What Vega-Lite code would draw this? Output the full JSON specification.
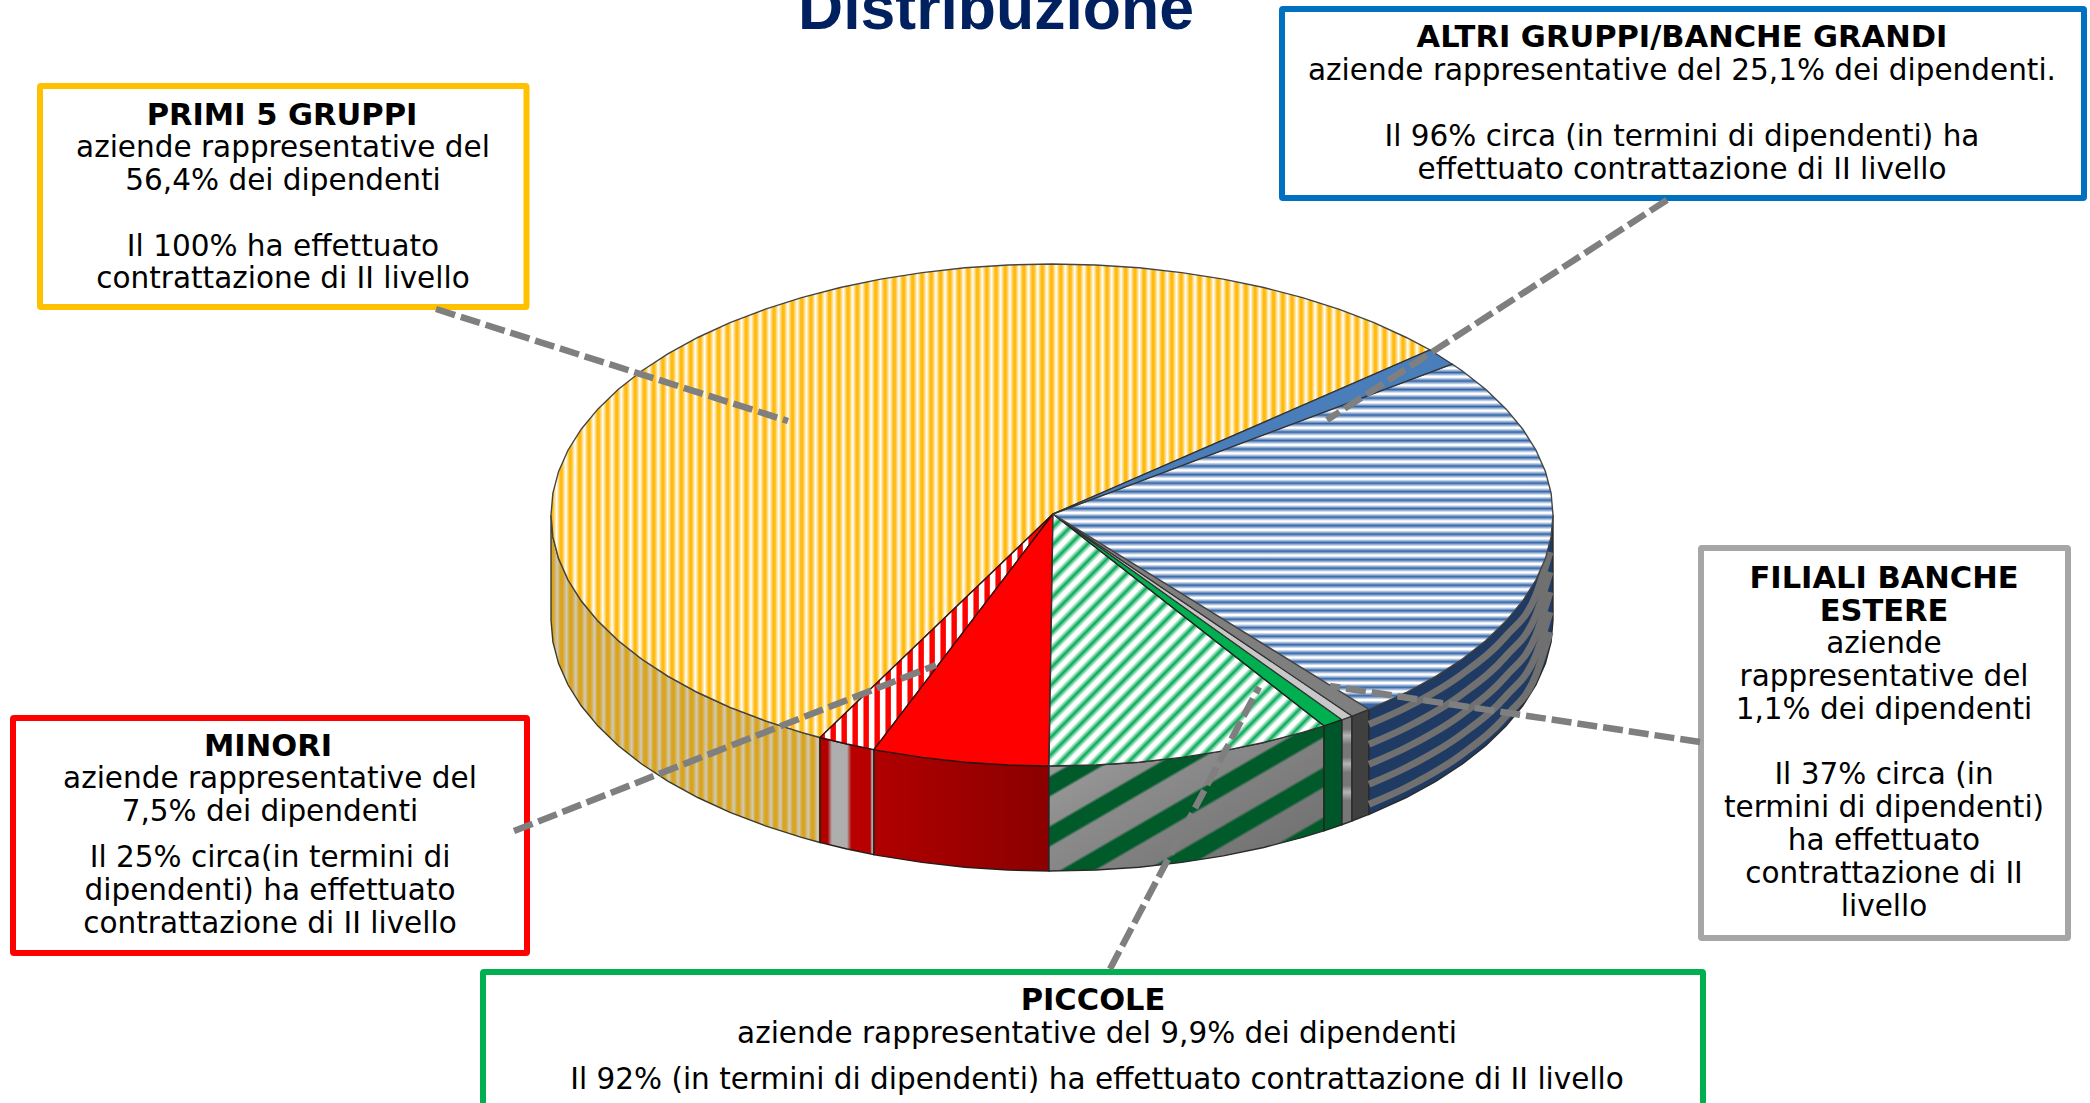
{"$schema":"https://vega.github.io/schema/vega-lite/v6.json","width":2090,"height":1103,"padding":0,"autosize":{"type":"none"},"background":"#ffffff","config":{"view":{"stroke":null}},
"datasets":{
"faces":[
{"f":"y","i":0,"x":1053,"y":514},{"f":"y","i":1,"x":1430,"y":350},{"f":"y","i":2,"x":1406.3,"y":337.5},{"f":"y","i":3,"x":1374,"y":322.7},{"f":"y","i":4,"x":1339.4,"y":309.4},{"f":"y","i":5,"x":1302.5,"y":297.6},{"f":"y","i":6,"x":1263.7,"y":287.5},{"f":"y","i":7,"x":1223.3,"y":279.1},{"f":"y","i":8,"x":1181.7,"y":272.6},{"f":"y","i":9,"x":1139,"y":267.8},{"f":"y","i":10,"x":1095.7,"y":265},{"f":"y","i":11,"x":1052,"y":264},{"f":"y","i":12,"x":1008.3,"y":265},{"f":"y","i":13,"x":965,"y":267.8},{"f":"y","i":14,"x":922.3,"y":272.6},{"f":"y","i":15,"x":880.7,"y":279.1},{"f":"y","i":16,"x":840.3,"y":287.5},{"f":"y","i":17,"x":801.5,"y":297.6},{"f":"y","i":18,"x":764.6,"y":309.4},{"f":"y","i":19,"x":730,"y":322.7},{"f":"y","i":20,"x":697.7,"y":337.5},{"f":"y","i":21,"x":668.2,"y":353.7},{"f":"y","i":22,"x":641.6,"y":371},{"f":"y","i":23,"x":618.1,"y":389.5},{"f":"y","i":24,"x":598,"y":408.9},{"f":"y","i":25,"x":581.2,"y":429.2},{"f":"y","i":26,"x":568.1,"y":450},{"f":"y","i":27,"x":558.6,"y":471.4},{"f":"y","i":28,"x":552.9,"y":493.1},{"f":"y","i":29,"x":551,"y":515},{"f":"y","i":30,"x":552.9,"y":536.9},{"f":"y","i":31,"x":558.6,"y":558.6},{"f":"y","i":32,"x":568.1,"y":580},{"f":"y","i":33,"x":581.2,"y":600.8},{"f":"y","i":34,"x":598,"y":621.1},{"f":"y","i":35,"x":618.1,"y":640.5},{"f":"y","i":36,"x":641.6,"y":659},{"f":"y","i":37,"x":668.2,"y":676.3},{"f":"y","i":38,"x":697.7,"y":692.5},{"f":"y","i":39,"x":730,"y":707.3},{"f":"y","i":40,"x":764.6,"y":720.6},{"f":"y","i":41,"x":801.5,"y":732.4},{"f":"y","i":42,"x":820,"y":737.5},{"f":"y","i":43,"x":1053,"y":514},
{"f":"rs","i":0,"x":1053,"y":514},{"f":"rs","i":1,"x":820,"y":737.5},{"f":"rs","i":2,"x":847,"y":744},{"f":"rs","i":3,"x":874,"y":749.6},{"f":"rs","i":4,"x":1053,"y":514},
{"f":"r","i":0,"x":1053,"y":514},{"f":"r","i":1,"x":874,"y":749.6},{"f":"r","i":2,"x":880.7,"y":750.9},{"f":"r","i":3,"x":922.3,"y":757.4},{"f":"r","i":4,"x":965,"y":762.2},{"f":"r","i":5,"x":1008.3,"y":765},{"f":"r","i":6,"x":1049,"y":766},{"f":"r","i":7,"x":1053,"y":514},
{"f":"gs","i":0,"x":1053,"y":514},{"f":"gs","i":1,"x":1049,"y":766},{"f":"gs","i":2,"x":1095.7,"y":765},{"f":"gs","i":3,"x":1139,"y":762.2},{"f":"gs","i":4,"x":1181.7,"y":757.4},{"f":"gs","i":5,"x":1223.3,"y":750.9},{"f":"gs","i":6,"x":1263.7,"y":742.5},{"f":"gs","i":7,"x":1302.5,"y":732.4},{"f":"gs","i":8,"x":1324,"y":725.8},{"f":"gs","i":9,"x":1053,"y":514},
{"f":"g","i":0,"x":1053,"y":514},{"f":"g","i":1,"x":1324,"y":725.8},{"f":"g","i":2,"x":1342,"y":719.7},{"f":"g","i":3,"x":1053,"y":514},
{"f":"as","i":0,"x":1053,"y":514},{"f":"as","i":1,"x":1342,"y":719.7},{"f":"as","i":2,"x":1352,"y":716},{"f":"as","i":3,"x":1053,"y":514},
{"f":"a","i":0,"x":1053,"y":514},{"f":"a","i":1,"x":1352,"y":716},{"f":"a","i":2,"x":1369,"y":709.3},{"f":"a","i":3,"x":1053,"y":514},
{"f":"bs","i":0,"x":1053,"y":514},{"f":"bs","i":1,"x":1369,"y":709.3},{"f":"bs","i":2,"x":1406.3,"y":692.5},{"f":"bs","i":3,"x":1435.8,"y":676.3},{"f":"bs","i":4,"x":1462.4,"y":659},{"f":"bs","i":5,"x":1485.9,"y":640.5},{"f":"bs","i":6,"x":1506,"y":621.1},{"f":"bs","i":7,"x":1522.8,"y":600.8},{"f":"bs","i":8,"x":1535.9,"y":580},{"f":"bs","i":9,"x":1545.4,"y":558.6},{"f":"bs","i":10,"x":1551.1,"y":536.9},{"f":"bs","i":11,"x":1553,"y":515},{"f":"bs","i":12,"x":1551.1,"y":493.1},{"f":"bs","i":13,"x":1545.4,"y":471.4},{"f":"bs","i":14,"x":1535.9,"y":450},{"f":"bs","i":15,"x":1522.8,"y":429.2},{"f":"bs","i":16,"x":1506,"y":408.9},{"f":"bs","i":17,"x":1485.9,"y":389.5},{"f":"bs","i":18,"x":1462.4,"y":371},{"f":"bs","i":19,"x":1452,"y":364},{"f":"bs","i":20,"x":1053,"y":514},
{"f":"b","i":0,"x":1053,"y":514},{"f":"b","i":1,"x":1452,"y":364},{"f":"b","i":2,"x":1430,"y":350},{"f":"b","i":3,"x":1053,"y":514}
],
"sides":[
{"f":"y","x":551,"y":515,"y2":620},{"f":"y","x":552.9,"y":536.9,"y2":641.9},{"f":"y","x":558.6,"y":558.6,"y2":663.6},{"f":"y","x":568.1,"y":580,"y2":685},{"f":"y","x":581.2,"y":600.8,"y2":705.8},{"f":"y","x":598,"y":621.1,"y2":726.1},{"f":"y","x":618.1,"y":640.5,"y2":745.5},{"f":"y","x":641.6,"y":659,"y2":764},{"f":"y","x":668.2,"y":676.3,"y2":781.3},{"f":"y","x":697.7,"y":692.5,"y2":797.5},{"f":"y","x":730,"y":707.3,"y2":812.3},{"f":"y","x":764.6,"y":720.6,"y2":825.6},{"f":"y","x":801.5,"y":732.4,"y2":837.4},{"f":"y","x":820,"y":737.5,"y2":842.5},
{"f":"rs","x":820,"y":737.5,"y2":842.5},{"f":"rs","x":847,"y":744,"y2":849},{"f":"rs","x":874,"y":749.6,"y2":854.6},
{"f":"r","x":874,"y":749.6,"y2":854.6},{"f":"r","x":880.7,"y":750.9,"y2":855.9},{"f":"r","x":922.3,"y":757.4,"y2":862.4},{"f":"r","x":965,"y":762.2,"y2":867.2},{"f":"r","x":1008.3,"y":765,"y2":870},{"f":"r","x":1049,"y":766,"y2":871},
{"f":"gs","x":1049,"y":766,"y2":871},{"f":"gs","x":1095.7,"y":765,"y2":870},{"f":"gs","x":1139,"y":762.2,"y2":867.2},{"f":"gs","x":1181.7,"y":757.4,"y2":862.4},{"f":"gs","x":1223.3,"y":750.9,"y2":855.9},{"f":"gs","x":1263.7,"y":742.5,"y2":847.5},{"f":"gs","x":1302.5,"y":732.4,"y2":837.4},{"f":"gs","x":1324,"y":725.8,"y2":830.8},
{"f":"g","x":1324,"y":725.8,"y2":830.8},{"f":"g","x":1342,"y":719.7,"y2":824.7},
{"f":"as","x":1342,"y":719.7,"y2":824.7},{"f":"as","x":1352,"y":716,"y2":821},
{"f":"a","x":1352,"y":716,"y2":821},{"f":"a","x":1369,"y":709.3,"y2":814.3},
{"f":"bs","x":1369,"y":709.3,"y2":814.3},{"f":"bs","x":1406.3,"y":692.5,"y2":797.5},{"f":"bs","x":1435.8,"y":676.3,"y2":781.3},{"f":"bs","x":1462.4,"y":659,"y2":764},{"f":"bs","x":1485.9,"y":640.5,"y2":745.5},{"f":"bs","x":1506,"y":621.1,"y2":726.1},{"f":"bs","x":1522.8,"y":600.8,"y2":705.8},{"f":"bs","x":1535.9,"y":580,"y2":685},{"f":"bs","x":1545.4,"y":558.6,"y2":663.6},{"f":"bs","x":1551.1,"y":536.9,"y2":641.9},{"f":"bs","x":1553,"y":515,"y2":620}
],
"bands":[
{"k":1,"x":1369,"y":724.3},{"k":1,"x":1406.3,"y":707.5},{"k":1,"x":1462.4,"y":674},{"k":1,"x":1506,"y":636.1},{"k":1,"x":1535.9,"y":595},{"k":1,"x":1550,"y":552},
{"k":2,"x":1369,"y":744.3},{"k":2,"x":1406.3,"y":727.5},{"k":2,"x":1462.4,"y":694},{"k":2,"x":1506,"y":656.1},{"k":2,"x":1535.9,"y":615},{"k":2,"x":1550,"y":572},
{"k":3,"x":1369,"y":764.3},{"k":3,"x":1406.3,"y":747.5},{"k":3,"x":1462.4,"y":714},{"k":3,"x":1506,"y":676.1},{"k":3,"x":1535.9,"y":635},{"k":3,"x":1550,"y":592},
{"k":4,"x":1369,"y":784.3},{"k":4,"x":1406.3,"y":767.5},{"k":4,"x":1462.4,"y":734},{"k":4,"x":1506,"y":696.1},{"k":4,"x":1535.9,"y":655},{"k":4,"x":1550,"y":612},
{"k":5,"x":1369,"y":804.3},{"k":5,"x":1406.3,"y":787.5},{"k":5,"x":1462.4,"y":754},{"k":5,"x":1506,"y":716.1},{"k":5,"x":1535.9,"y":675},{"k":5,"x":1550,"y":632}
],
"boxes":[
{"g":"primi","x":40,"x2":526.5,"y":86,"y2":307},
{"g":"altri","x":1282,"x2":2084,"y":9,"y2":198},
{"g":"filiali","x":1701,"x2":2068,"y":548,"y2":938},
{"g":"minori","x":13,"x2":527,"y":718,"y2":953},
{"g":"piccole","x":483,"x2":1703,"y":972,"y2":1125}
],
"leaders":[
{"x":436,"y":309,"x2":788,"y2":421},
{"x":1667,"y":200,"x2":1327,"y2":420},
{"x":1700,"y":742,"x2":1330,"y2":686},
{"x":1110,"y":969,"x2":1259,"y2":687},
{"x":514,"y":831,"x2":936,"y2":665}
],
"bold":[
{"t":"PRIMI 5 GRUPPI","x":282,"y":125},
{"t":"ALTRI GRUPPI/BANCHE GRANDI","x":1682,"y":47},
{"t":"FILIALI BANCHE","x":1884,"y":588},
{"t":"ESTERE","x":1884,"y":621},
{"t":"MINORI","x":268,"y":756},
{"t":"PICCOLE","x":1093,"y":1010}
],
"plain":[
{"t":"aziende rappresentative del","x":283,"y":157},
{"t":"56,4% dei dipendenti","x":283,"y":190},
{"t":"Il 100% ha effettuato","x":283,"y":256},
{"t":"contrattazione di II livello","x":283,"y":288},
{"t":"aziende rappresentative del 25,1% dei dipendenti.","x":1682,"y":80},
{"t":"Il 96% circa (in termini di dipendenti) ha","x":1682,"y":146},
{"t":"effettuato contrattazione di II livello","x":1682,"y":179},
{"t":"aziende","x":1884,"y":653},
{"t":"rappresentative del","x":1884,"y":686},
{"t":"1,1% dei dipendenti","x":1884,"y":719},
{"t":"Il 37% circa (in","x":1884,"y":784},
{"t":"termini di dipendenti)","x":1884,"y":817},
{"t":"ha effettuato","x":1884,"y":850},
{"t":"contrattazione di II","x":1884,"y":883},
{"t":"livello","x":1884,"y":916},
{"t":"aziende rappresentative del","x":270,"y":788},
{"t":"7,5% dei dipendenti","x":270,"y":821},
{"t":"Il 25% circa(in termini di","x":270,"y":867},
{"t":"dipendenti) ha effettuato","x":270,"y":900},
{"t":"contrattazione di II livello","x":270,"y":933},
{"t":"aziende rappresentative del 9,9% dei dipendenti","x":1097,"y":1043},
{"t":"Il 92% (in termini di dipendenti) ha effettuato contrattazione di II livello","x":1097,"y":1089}
],
"title":[{"t":"Distribuzione","x":996,"y":29}]
},
"encoding":{"x":{"field":"x","type":"quantitative","scale":{"domain":[0,2090],"nice":false,"zero":false},"axis":null},"y":{"field":"y","type":"quantitative","scale":{"domain":[1103,0],"nice":false,"zero":false},"axis":null}},
"layer":[
{"data":{"name":"sides"},"transform":[{"filter":"datum.f==='y'"}],"mark":{"type":"area","stroke":"#3a3a2a","strokeWidth":1.4,"color":{"gradient":"linear","x1":0,"y1":0,"x2":1.152,"y2":0,"stops":[{"offset":0,"color":"#d9a520"},{"offset":0.008,"color":"#d9a520"},{"offset":0.02,"color":"#cfcabd"},{"offset":0.03,"color":"#d9a520"},{"offset":0.038,"color":"#d9a520"},{"offset":0.05,"color":"#cfcabd"},{"offset":0.06,"color":"#d9a520"},{"offset":0.068,"color":"#d9a520"},{"offset":0.08,"color":"#cfcabd"},{"offset":0.09,"color":"#d9a520"},{"offset":0.098,"color":"#d9a520"},{"offset":0.11,"color":"#cfcabd"},{"offset":0.12,"color":"#d9a520"},{"offset":0.128,"color":"#d9a520"},{"offset":0.14,"color":"#cfcabd"},{"offset":0.15,"color":"#d9a520"},{"offset":0.158,"color":"#d9a520"},{"offset":0.17,"color":"#cfcabd"},{"offset":0.18,"color":"#d9a520"},{"offset":0.188,"color":"#d9a520"},{"offset":0.2,"color":"#cfcabd"},{"offset":0.21,"color":"#d9a520"},{"offset":0.218,"color":"#d9a520"},{"offset":0.23,"color":"#cfcabd"},{"offset":0.24,"color":"#d9a520"},{"offset":0.248,"color":"#d9a520"},{"offset":0.26,"color":"#cfcabd"},{"offset":0.27,"color":"#d9a520"},{"offset":0.278,"color":"#d9a520"},{"offset":0.29,"color":"#cfcabd"},{"offset":0.3,"color":"#d9a520"},{"offset":0.308,"color":"#d9a520"},{"offset":0.32,"color":"#cfcabd"},{"offset":0.33,"color":"#d9a520"},{"offset":0.338,"color":"#d9a520"},{"offset":0.35,"color":"#cfcabd"},{"offset":0.36,"color":"#d9a520"},{"offset":0.368,"color":"#d9a520"},{"offset":0.38,"color":"#cfcabd"},{"offset":0.39,"color":"#d9a520"},{"offset":0.398,"color":"#d9a520"},{"offset":0.41,"color":"#cfcabd"},{"offset":0.42,"color":"#d9a520"},{"offset":0.428,"color":"#d9a520"},{"offset":0.44,"color":"#cfcabd"},{"offset":0.45,"color":"#d9a520"},{"offset":0.458,"color":"#d9a520"},{"offset":0.47,"color":"#cfcabd"},{"offset":0.48,"color":"#d9a520"},{"offset":0.488,"color":"#d9a520"},{"offset":0.5,"color":"#cfcabd"},{"offset":0.51,"color":"#d9a520"},{"offset":0.518,"color":"#d9a520"},{"offset":0.53,"color":"#cfcabd"},{"offset":0.54,"color":"#d9a520"},{"offset":0.548,"color":"#d9a520"},{"offset":0.56,"color":"#cfcabd"},{"offset":0.57,"color":"#d9a520"},{"offset":0.578,"color":"#d9a520"},{"offset":0.59,"color":"#cfcabd"},{"offset":0.6,"color":"#d9a520"},{"offset":0.608,"color":"#d9a520"},{"offset":0.62,"color":"#cfcabd"},{"offset":0.63,"color":"#d9a520"},{"offset":0.638,"color":"#d9a520"},{"offset":0.65,"color":"#cfcabd"},{"offset":0.66,"color":"#d9a520"},{"offset":0.668,"color":"#d9a520"},{"offset":0.68,"color":"#cfcabd"},{"offset":0.69,"color":"#d9a520"},{"offset":0.698,"color":"#d9a520"},{"offset":0.71,"color":"#cfcabd"},{"offset":0.72,"color":"#d9a520"},{"offset":0.728,"color":"#d9a520"},{"offset":0.74,"color":"#cfcabd"},{"offset":0.75,"color":"#d9a520"},{"offset":0.758,"color":"#d9a520"},{"offset":0.77,"color":"#cfcabd"},{"offset":0.78,"color":"#d9a520"},{"offset":0.788,"color":"#d9a520"},{"offset":0.8,"color":"#cfcabd"},{"offset":0.81,"color":"#d9a520"},{"offset":0.818,"color":"#d9a520"},{"offset":0.83,"color":"#cfcabd"},{"offset":0.84,"color":"#d9a520"},{"offset":0.848,"color":"#d9a520"},{"offset":0.86,"color":"#cfcabd"},{"offset":0.87,"color":"#d9a520"}]}},"encoding":{"y2":{"field":"y2"}}},
{"data":{"name":"sides"},"transform":[{"filter":"datum.f==='rs'"}],"mark":{"type":"area","stroke":"#2a1a1a","strokeWidth":1.4,"color":{"gradient":"linear","x1":0,"y1":0,"x2":1,"y2":0,"stops":[{"offset":0,"color":"#b00000"},{"offset":0.14,"color":"#b00000"},{"offset":0.22,"color":"#aeaeae"},{"offset":0.5,"color":"#aeaeae"},{"offset":0.58,"color":"#b80000"},{"offset":0.93,"color":"#b80000"},{"offset":0.96,"color":"#aaaaaa"},{"offset":1,"color":"#aaaaaa"}]}},"encoding":{"y2":{"field":"y2"}}},
{"data":{"name":"sides"},"transform":[{"filter":"datum.f==='r'"}],"mark":{"type":"area","stroke":"#2a1a1a","strokeWidth":1.4,"color":{"gradient":"linear","x1":0,"y1":0,"x2":1,"y2":0,"stops":[{"offset":0,"color":"#b00000"},{"offset":1,"color":"#8b0000"}]}},"encoding":{"y2":{"field":"y2"}}},
{"data":{"name":"sides"},"transform":[{"filter":"datum.f==='gs'"}],"mark":{"type":"area","stroke":"#2a2a2a","strokeWidth":1.4,"color":{"gradient":"linear","x1":0,"y1":0,"x2":1.1,"y2":1,"stops":[{"offset":0,"color":"#005a2a"},{"offset":0.06,"color":"#005a2a"},{"offset":0.07,"color":"#9c9c9c"},{"offset":0.154,"color":"#989898"},{"offset":0.164,"color":"#005a2a"},{"offset":0.216,"color":"#005a2a"},{"offset":0.226,"color":"#949494"},{"offset":0.31,"color":"#8e8e8e"},{"offset":0.32,"color":"#005a2a"},{"offset":0.372,"color":"#005a2a"},{"offset":0.382,"color":"#8a8a8a"},{"offset":0.466,"color":"#868686"},{"offset":0.476,"color":"#005a2a"},{"offset":0.528,"color":"#005a2a"},{"offset":0.538,"color":"#808080"},{"offset":0.622,"color":"#7c7c7c"},{"offset":0.632,"color":"#005a2a"},{"offset":0.684,"color":"#005a2a"},{"offset":0.694,"color":"#787878"},{"offset":0.778,"color":"#747474"},{"offset":0.788,"color":"#005a2a"},{"offset":0.84,"color":"#005a2a"},{"offset":0.85,"color":"#727272"},{"offset":0.934,"color":"#707070"},{"offset":0.944,"color":"#005a2a"},{"offset":1,"color":"#005a2a"}]}},"encoding":{"y2":{"field":"y2"}}},
{"data":{"name":"sides"},"transform":[{"filter":"datum.f==='g'"}],"mark":{"type":"area","stroke":"#1a2a1a","strokeWidth":1.4,"color":"#00562b"},"encoding":{"y2":{"field":"y2"}}},
{"data":{"name":"sides"},"transform":[{"filter":"datum.f==='as'"}],"mark":{"type":"area","stroke":"#2a2a2a","strokeWidth":1.4,"color":{"gradient":"linear","x1":0,"y1":0,"x2":0,"y2":1,"stops":[{"offset":0,"color":"#777777"},{"offset":0.12,"color":"#777777"},{"offset":0.18,"color":"#b5b5b5"},{"offset":0.26,"color":"#777777"},{"offset":0.38,"color":"#777777"},{"offset":0.44,"color":"#b5b5b5"},{"offset":0.52,"color":"#777777"},{"offset":0.64,"color":"#777777"},{"offset":0.7,"color":"#b5b5b5"},{"offset":0.78,"color":"#777777"},{"offset":1,"color":"#777777"}]}},"encoding":{"y2":{"field":"y2"}}},
{"data":{"name":"sides"},"transform":[{"filter":"datum.f==='a'"}],"mark":{"type":"area","stroke":"#2a2a2a","strokeWidth":1.4,"color":"#404040"},"encoding":{"y2":{"field":"y2"}}},
{"data":{"name":"sides"},"transform":[{"filter":"datum.f==='bs'"}],"mark":{"type":"area","stroke":"#2a2a2a","strokeWidth":1.4,"color":"#1f3a63"},"encoding":{"y2":{"field":"y2"}}},
{"data":{"name":"bands"},"mark":{"type":"line","stroke":"#707070","strokeWidth":7,"interpolate":"monotone"},"encoding":{"detail":{"field":"k","type":"nominal"}}},
{"data":{"name":"faces"},"transform":[{"filter":"datum.f==='y'"}],"mark":{"type":"line","stroke":"#444444","strokeWidth":1.4,"fill":{"gradient":"linear","x1":0,"y1":0,"x2":1.0526,"y2":0,"stops":[{"offset":0,"color":"#fb1"},{"offset":0.002,"color":"#fb1"},{"offset":0.006,"color":"#fff"},{"offset":0.01,"color":"#fb1"},{"offset":0.012,"color":"#fb1"},{"offset":0.016,"color":"#fff"},{"offset":0.02,"color":"#fb1"},{"offset":0.022,"color":"#fb1"},{"offset":0.026,"color":"#fff"},{"offset":0.03,"color":"#fb1"},{"offset":0.032,"color":"#fb1"},{"offset":0.036,"color":"#fff"},{"offset":0.04,"color":"#fb1"},{"offset":0.042,"color":"#fb1"},{"offset":0.046,"color":"#fff"},{"offset":0.05,"color":"#fb1"},{"offset":0.052,"color":"#fb1"},{"offset":0.056,"color":"#fff"},{"offset":0.06,"color":"#fb1"},{"offset":0.062,"color":"#fb1"},{"offset":0.066,"color":"#fff"},{"offset":0.07,"color":"#fb1"},{"offset":0.072,"color":"#fb1"},{"offset":0.076,"color":"#fff"},{"offset":0.08,"color":"#fb1"},{"offset":0.082,"color":"#fb1"},{"offset":0.086,"color":"#fff"},{"offset":0.09,"color":"#fb1"},{"offset":0.092,"color":"#fb1"},{"offset":0.096,"color":"#fff"},{"offset":0.1,"color":"#fb1"},{"offset":0.102,"color":"#fb1"},{"offset":0.106,"color":"#fff"},{"offset":0.11,"color":"#fb1"},{"offset":0.112,"color":"#fb1"},{"offset":0.116,"color":"#fff"},{"offset":0.12,"color":"#fb1"},{"offset":0.122,"color":"#fb1"},{"offset":0.126,"color":"#fff"},{"offset":0.13,"color":"#fb1"},{"offset":0.132,"color":"#fb1"},{"offset":0.136,"color":"#fff"},{"offset":0.14,"color":"#fb1"},{"offset":0.142,"color":"#fb1"},{"offset":0.146,"color":"#fff"},{"offset":0.15,"color":"#fb1"},{"offset":0.152,"color":"#fb1"},{"offset":0.156,"color":"#fff"},{"offset":0.16,"color":"#fb1"},{"offset":0.162,"color":"#fb1"},{"offset":0.166,"color":"#fff"},{"offset":0.17,"color":"#fb1"},{"offset":0.172,"color":"#fb1"},{"offset":0.176,"color":"#fff"},{"offset":0.18,"color":"#fb1"},{"offset":0.182,"color":"#fb1"},{"offset":0.186,"color":"#fff"},{"offset":0.19,"color":"#fb1"},{"offset":0.192,"color":"#fb1"},{"offset":0.196,"color":"#fff"},{"offset":0.2,"color":"#fb1"},{"offset":0.202,"color":"#fb1"},{"offset":0.206,"color":"#fff"},{"offset":0.21,"color":"#fb1"},{"offset":0.212,"color":"#fb1"},{"offset":0.216,"color":"#fff"},{"offset":0.22,"color":"#fb1"},{"offset":0.222,"color":"#fb1"},{"offset":0.226,"color":"#fff"},{"offset":0.23,"color":"#fb1"},{"offset":0.232,"color":"#fb1"},{"offset":0.236,"color":"#fff"},{"offset":0.24,"color":"#fb1"},{"offset":0.242,"color":"#fb1"},{"offset":0.246,"color":"#fff"},{"offset":0.25,"color":"#fb1"},{"offset":0.252,"color":"#fb1"},{"offset":0.256,"color":"#fff"},{"offset":0.26,"color":"#fb1"},{"offset":0.262,"color":"#fb1"},{"offset":0.266,"color":"#fff"},{"offset":0.27,"color":"#fb1"},{"offset":0.272,"color":"#fb1"},{"offset":0.276,"color":"#fff"},{"offset":0.28,"color":"#fb1"},{"offset":0.282,"color":"#fb1"},{"offset":0.286,"color":"#fff"},{"offset":0.29,"color":"#fb1"},{"offset":0.292,"color":"#fb1"},{"offset":0.296,"color":"#fff"},{"offset":0.3,"color":"#fb1"},{"offset":0.302,"color":"#fb1"},{"offset":0.306,"color":"#fff"},{"offset":0.31,"color":"#fb1"},{"offset":0.312,"color":"#fb1"},{"offset":0.316,"color":"#fff"},{"offset":0.32,"color":"#fb1"},{"offset":0.322,"color":"#fb1"},{"offset":0.326,"color":"#fff"},{"offset":0.33,"color":"#fb1"},{"offset":0.332,"color":"#fb1"},{"offset":0.336,"color":"#fff"},{"offset":0.34,"color":"#fb1"},{"offset":0.342,"color":"#fb1"},{"offset":0.346,"color":"#fff"},{"offset":0.35,"color":"#fb1"},{"offset":0.352,"color":"#fb1"},{"offset":0.356,"color":"#fff"},{"offset":0.36,"color":"#fb1"},{"offset":0.362,"color":"#fb1"},{"offset":0.366,"color":"#fff"},{"offset":0.37,"color":"#fb1"},{"offset":0.372,"color":"#fb1"},{"offset":0.376,"color":"#fff"},{"offset":0.38,"color":"#fb1"},{"offset":0.382,"color":"#fb1"},{"offset":0.386,"color":"#fff"},{"offset":0.39,"color":"#fb1"},{"offset":0.392,"color":"#fb1"},{"offset":0.396,"color":"#fff"},{"offset":0.4,"color":"#fb1"},{"offset":0.402,"color":"#fb1"},{"offset":0.406,"color":"#fff"},{"offset":0.41,"color":"#fb1"},{"offset":0.412,"color":"#fb1"},{"offset":0.416,"color":"#fff"},{"offset":0.42,"color":"#fb1"},{"offset":0.422,"color":"#fb1"},{"offset":0.426,"color":"#fff"},{"offset":0.43,"color":"#fb1"},{"offset":0.432,"color":"#fb1"},{"offset":0.436,"color":"#fff"},{"offset":0.44,"color":"#fb1"},{"offset":0.442,"color":"#fb1"},{"offset":0.446,"color":"#fff"},{"offset":0.45,"color":"#fb1"},{"offset":0.452,"color":"#fb1"},{"offset":0.456,"color":"#fff"},{"offset":0.46,"color":"#fb1"},{"offset":0.462,"color":"#fb1"},{"offset":0.466,"color":"#fff"},{"offset":0.47,"color":"#fb1"},{"offset":0.472,"color":"#fb1"},{"offset":0.476,"color":"#fff"},{"offset":0.48,"color":"#fb1"},{"offset":0.482,"color":"#fb1"},{"offset":0.486,"color":"#fff"},{"offset":0.49,"color":"#fb1"},{"offset":0.492,"color":"#fb1"},{"offset":0.496,"color":"#fff"},{"offset":0.5,"color":"#fb1"},{"offset":0.502,"color":"#fb1"},{"offset":0.506,"color":"#fff"},{"offset":0.51,"color":"#fb1"},{"offset":0.512,"color":"#fb1"},{"offset":0.516,"color":"#fff"},{"offset":0.52,"color":"#fb1"},{"offset":0.522,"color":"#fb1"},{"offset":0.526,"color":"#fff"},{"offset":0.53,"color":"#fb1"},{"offset":0.532,"color":"#fb1"},{"offset":0.536,"color":"#fff"},{"offset":0.54,"color":"#fb1"},{"offset":0.542,"color":"#fb1"},{"offset":0.546,"color":"#fff"},{"offset":0.55,"color":"#fb1"},{"offset":0.552,"color":"#fb1"},{"offset":0.556,"color":"#fff"},{"offset":0.56,"color":"#fb1"},{"offset":0.562,"color":"#fb1"},{"offset":0.566,"color":"#fff"},{"offset":0.57,"color":"#fb1"},{"offset":0.572,"color":"#fb1"},{"offset":0.576,"color":"#fff"},{"offset":0.58,"color":"#fb1"},{"offset":0.582,"color":"#fb1"},{"offset":0.586,"color":"#fff"},{"offset":0.59,"color":"#fb1"},{"offset":0.592,"color":"#fb1"},{"offset":0.596,"color":"#fff"},{"offset":0.6,"color":"#fb1"},{"offset":0.602,"color":"#fb1"},{"offset":0.606,"color":"#fff"},{"offset":0.61,"color":"#fb1"},{"offset":0.612,"color":"#fb1"},{"offset":0.616,"color":"#fff"},{"offset":0.62,"color":"#fb1"},{"offset":0.622,"color":"#fb1"},{"offset":0.626,"color":"#fff"},{"offset":0.63,"color":"#fb1"},{"offset":0.632,"color":"#fb1"},{"offset":0.636,"color":"#fff"},{"offset":0.64,"color":"#fb1"},{"offset":0.642,"color":"#fb1"},{"offset":0.646,"color":"#fff"},{"offset":0.65,"color":"#fb1"},{"offset":0.652,"color":"#fb1"},{"offset":0.656,"color":"#fff"},{"offset":0.66,"color":"#fb1"},{"offset":0.662,"color":"#fb1"},{"offset":0.666,"color":"#fff"},{"offset":0.67,"color":"#fb1"},{"offset":0.672,"color":"#fb1"},{"offset":0.676,"color":"#fff"},{"offset":0.68,"color":"#fb1"},{"offset":0.682,"color":"#fb1"},{"offset":0.686,"color":"#fff"},{"offset":0.69,"color":"#fb1"},{"offset":0.692,"color":"#fb1"},{"offset":0.696,"color":"#fff"},{"offset":0.7,"color":"#fb1"},{"offset":0.702,"color":"#fb1"},{"offset":0.706,"color":"#fff"},{"offset":0.71,"color":"#fb1"},{"offset":0.712,"color":"#fb1"},{"offset":0.716,"color":"#fff"},{"offset":0.72,"color":"#fb1"},{"offset":0.722,"color":"#fb1"},{"offset":0.726,"color":"#fff"},{"offset":0.73,"color":"#fb1"},{"offset":0.732,"color":"#fb1"},{"offset":0.736,"color":"#fff"},{"offset":0.74,"color":"#fb1"},{"offset":0.742,"color":"#fb1"},{"offset":0.746,"color":"#fff"},{"offset":0.75,"color":"#fb1"},{"offset":0.752,"color":"#fb1"},{"offset":0.756,"color":"#fff"},{"offset":0.76,"color":"#fb1"},{"offset":0.762,"color":"#fb1"},{"offset":0.766,"color":"#fff"},{"offset":0.77,"color":"#fb1"},{"offset":0.772,"color":"#fb1"},{"offset":0.776,"color":"#fff"},{"offset":0.78,"color":"#fb1"},{"offset":0.782,"color":"#fb1"},{"offset":0.786,"color":"#fff"},{"offset":0.79,"color":"#fb1"},{"offset":0.792,"color":"#fb1"},{"offset":0.796,"color":"#fff"},{"offset":0.8,"color":"#fb1"},{"offset":0.802,"color":"#fb1"},{"offset":0.806,"color":"#fff"},{"offset":0.81,"color":"#fb1"},{"offset":0.812,"color":"#fb1"},{"offset":0.816,"color":"#fff"},{"offset":0.82,"color":"#fb1"},{"offset":0.822,"color":"#fb1"},{"offset":0.826,"color":"#fff"},{"offset":0.83,"color":"#fb1"},{"offset":0.832,"color":"#fb1"},{"offset":0.836,"color":"#fff"},{"offset":0.84,"color":"#fb1"},{"offset":0.842,"color":"#fb1"},{"offset":0.846,"color":"#fff"},{"offset":0.85,"color":"#fb1"},{"offset":0.852,"color":"#fb1"},{"offset":0.856,"color":"#fff"},{"offset":0.86,"color":"#fb1"},{"offset":0.862,"color":"#fb1"},{"offset":0.866,"color":"#fff"},{"offset":0.87,"color":"#fb1"},{"offset":0.872,"color":"#fb1"},{"offset":0.876,"color":"#fff"},{"offset":0.88,"color":"#fb1"},{"offset":0.882,"color":"#fb1"},{"offset":0.886,"color":"#fff"},{"offset":0.89,"color":"#fb1"},{"offset":0.892,"color":"#fb1"},{"offset":0.896,"color":"#fff"},{"offset":0.9,"color":"#fb1"},{"offset":0.902,"color":"#fb1"},{"offset":0.906,"color":"#fff"},{"offset":0.91,"color":"#fb1"},{"offset":0.912,"color":"#fb1"},{"offset":0.916,"color":"#fff"},{"offset":0.92,"color":"#fb1"},{"offset":0.922,"color":"#fb1"},{"offset":0.926,"color":"#fff"},{"offset":0.93,"color":"#fb1"},{"offset":0.932,"color":"#fb1"},{"offset":0.936,"color":"#fff"},{"offset":0.94,"color":"#fb1"},{"offset":0.942,"color":"#fb1"},{"offset":0.946,"color":"#fff"},{"offset":0.95,"color":"#fb1"}]}},"encoding":{"order":{"field":"i"}}},
{"data":{"name":"faces"},"transform":[{"filter":"datum.f==='rs'"}],"mark":{"type":"line","stroke":"#331111","strokeWidth":1.4,"fill":{"gradient":"linear","x1":0,"y1":0,"x2":0.944,"y2":0,"stops":[{"offset":0,"color":"#f00"},{"offset":0.02,"color":"#f00"},{"offset":0.025,"color":"#fff"},{"offset":0.045,"color":"#fff"},{"offset":0.05,"color":"#f00"},{"offset":0.07,"color":"#f00"},{"offset":0.075,"color":"#fff"},{"offset":0.095,"color":"#fff"},{"offset":0.1,"color":"#f00"},{"offset":0.12,"color":"#f00"},{"offset":0.125,"color":"#fff"},{"offset":0.145,"color":"#fff"},{"offset":0.15,"color":"#f00"},{"offset":0.17,"color":"#f00"},{"offset":0.175,"color":"#fff"},{"offset":0.195,"color":"#fff"},{"offset":0.2,"color":"#f00"},{"offset":0.22,"color":"#f00"},{"offset":0.225,"color":"#fff"},{"offset":0.245,"color":"#fff"},{"offset":0.25,"color":"#f00"},{"offset":0.27,"color":"#f00"},{"offset":0.275,"color":"#fff"},{"offset":0.295,"color":"#fff"},{"offset":0.3,"color":"#f00"},{"offset":0.32,"color":"#f00"},{"offset":0.325,"color":"#fff"},{"offset":0.345,"color":"#fff"},{"offset":0.35,"color":"#f00"},{"offset":0.37,"color":"#f00"},{"offset":0.375,"color":"#fff"},{"offset":0.395,"color":"#fff"},{"offset":0.4,"color":"#f00"},{"offset":0.42,"color":"#f00"},{"offset":0.425,"color":"#fff"},{"offset":0.445,"color":"#fff"},{"offset":0.45,"color":"#f00"},{"offset":0.47,"color":"#f00"},{"offset":0.475,"color":"#fff"},{"offset":0.495,"color":"#fff"},{"offset":0.5,"color":"#f00"},{"offset":0.52,"color":"#f00"},{"offset":0.525,"color":"#fff"},{"offset":0.545,"color":"#fff"},{"offset":0.55,"color":"#f00"},{"offset":0.57,"color":"#f00"},{"offset":0.575,"color":"#fff"},{"offset":0.595,"color":"#fff"},{"offset":0.6,"color":"#f00"},{"offset":0.62,"color":"#f00"},{"offset":0.625,"color":"#fff"},{"offset":0.645,"color":"#fff"},{"offset":0.65,"color":"#f00"},{"offset":0.67,"color":"#f00"},{"offset":0.675,"color":"#fff"},{"offset":0.695,"color":"#fff"},{"offset":0.7,"color":"#f00"},{"offset":0.72,"color":"#f00"},{"offset":0.725,"color":"#fff"},{"offset":0.745,"color":"#fff"},{"offset":0.75,"color":"#f00"},{"offset":0.77,"color":"#f00"},{"offset":0.775,"color":"#fff"},{"offset":0.795,"color":"#fff"},{"offset":0.8,"color":"#f00"},{"offset":0.82,"color":"#f00"},{"offset":0.825,"color":"#fff"},{"offset":0.845,"color":"#fff"},{"offset":0.85,"color":"#f00"},{"offset":0.87,"color":"#f00"},{"offset":0.875,"color":"#fff"},{"offset":0.895,"color":"#fff"},{"offset":0.9,"color":"#f00"},{"offset":0.92,"color":"#f00"},{"offset":0.925,"color":"#fff"},{"offset":0.945,"color":"#fff"},{"offset":0.95,"color":"#f00"}]}},"encoding":{"order":{"field":"i"}}},
{"data":{"name":"faces"},"transform":[{"filter":"datum.f==='r'"}],"mark":{"type":"line","stroke":"#331111","strokeWidth":1.4,"fill":"#ff0000"},"encoding":{"order":{"field":"i"}}},
{"data":{"name":"faces"},"transform":[{"filter":"datum.f==='gs'"}],"mark":{"type":"line","stroke":"#333333","strokeWidth":1.4,"fill":{"gradient":"linear","x1":0,"y1":0,"x2":1.139,"y2":1.025,"stops":[{"offset":0,"color":"#0a5"},{"offset":0.011,"color":"#fff"},{"offset":0.019,"color":"#fff"},{"offset":0.03,"color":"#0a5"},{"offset":0.041,"color":"#fff"},{"offset":0.049,"color":"#fff"},{"offset":0.06,"color":"#0a5"},{"offset":0.071,"color":"#fff"},{"offset":0.079,"color":"#fff"},{"offset":0.09,"color":"#0a5"},{"offset":0.101,"color":"#fff"},{"offset":0.109,"color":"#fff"},{"offset":0.12,"color":"#0a5"},{"offset":0.131,"color":"#fff"},{"offset":0.139,"color":"#fff"},{"offset":0.15,"color":"#0a5"},{"offset":0.161,"color":"#fff"},{"offset":0.169,"color":"#fff"},{"offset":0.18,"color":"#0a5"},{"offset":0.191,"color":"#fff"},{"offset":0.199,"color":"#fff"},{"offset":0.21,"color":"#0a5"},{"offset":0.221,"color":"#fff"},{"offset":0.229,"color":"#fff"},{"offset":0.24,"color":"#0a5"},{"offset":0.251,"color":"#fff"},{"offset":0.259,"color":"#fff"},{"offset":0.27,"color":"#0a5"},{"offset":0.281,"color":"#fff"},{"offset":0.289,"color":"#fff"},{"offset":0.3,"color":"#0a5"},{"offset":0.311,"color":"#fff"},{"offset":0.319,"color":"#fff"},{"offset":0.33,"color":"#0a5"},{"offset":0.341,"color":"#fff"},{"offset":0.349,"color":"#fff"},{"offset":0.36,"color":"#0a5"},{"offset":0.371,"color":"#fff"},{"offset":0.379,"color":"#fff"},{"offset":0.39,"color":"#0a5"},{"offset":0.401,"color":"#fff"},{"offset":0.409,"color":"#fff"},{"offset":0.42,"color":"#0a5"},{"offset":0.431,"color":"#fff"},{"offset":0.439,"color":"#fff"},{"offset":0.45,"color":"#0a5"},{"offset":0.461,"color":"#fff"},{"offset":0.469,"color":"#fff"},{"offset":0.48,"color":"#0a5"},{"offset":0.491,"color":"#fff"},{"offset":0.499,"color":"#fff"},{"offset":0.51,"color":"#0a5"},{"offset":0.521,"color":"#fff"},{"offset":0.529,"color":"#fff"},{"offset":0.54,"color":"#0a5"},{"offset":0.551,"color":"#fff"},{"offset":0.559,"color":"#fff"},{"offset":0.57,"color":"#0a5"},{"offset":0.581,"color":"#fff"},{"offset":0.589,"color":"#fff"},{"offset":0.6,"color":"#0a5"},{"offset":0.611,"color":"#fff"},{"offset":0.619,"color":"#fff"},{"offset":0.63,"color":"#0a5"},{"offset":0.641,"color":"#fff"},{"offset":0.649,"color":"#fff"},{"offset":0.66,"color":"#0a5"},{"offset":0.671,"color":"#fff"},{"offset":0.679,"color":"#fff"},{"offset":0.69,"color":"#0a5"},{"offset":0.701,"color":"#fff"},{"offset":0.709,"color":"#fff"},{"offset":0.72,"color":"#0a5"},{"offset":0.731,"color":"#fff"},{"offset":0.739,"color":"#fff"},{"offset":0.75,"color":"#0a5"},{"offset":0.761,"color":"#fff"},{"offset":0.769,"color":"#fff"},{"offset":0.78,"color":"#0a5"},{"offset":0.791,"color":"#fff"},{"offset":0.799,"color":"#fff"},{"offset":0.81,"color":"#0a5"},{"offset":0.821,"color":"#fff"},{"offset":0.829,"color":"#fff"},{"offset":0.84,"color":"#0a5"},{"offset":0.851,"color":"#fff"},{"offset":0.859,"color":"#fff"},{"offset":0.87,"color":"#0a5"},{"offset":0.881,"color":"#fff"},{"offset":0.889,"color":"#fff"},{"offset":0.9,"color":"#0a5"},{"offset":0.911,"color":"#fff"},{"offset":0.919,"color":"#fff"},{"offset":0.93,"color":"#0a5"}]}},"encoding":{"order":{"field":"i"}}},
{"data":{"name":"faces"},"transform":[{"filter":"datum.f==='g'"}],"mark":{"type":"line","stroke":"#222222","strokeWidth":1.4,"fill":"#00b050"},"encoding":{"order":{"field":"i"}}},
{"data":{"name":"faces"},"transform":[{"filter":"datum.f==='as'"}],"mark":{"type":"line","stroke":"#333333","strokeWidth":1.2,"fill":"#c8c8c8"},"encoding":{"order":{"field":"i"}}},
{"data":{"name":"faces"},"transform":[{"filter":"datum.f==='a'"}],"mark":{"type":"line","stroke":"#333333","strokeWidth":1.2,"fill":"#7f7f7f"},"encoding":{"order":{"field":"i"}}},
{"data":{"name":"faces"},"transform":[{"filter":"datum.f==='bs'"}],"mark":{"type":"line","stroke":"#444444","strokeWidth":1.4,"fill":{"gradient":"linear","x1":0,"y1":0,"x2":0,"y2":0.9855,"stops":[{"offset":0,"color":"#36a"},{"offset":0.011,"color":"#fff"},{"offset":0.014,"color":"#fff"},{"offset":0.025,"color":"#36a"},{"offset":0.036,"color":"#fff"},{"offset":0.039,"color":"#fff"},{"offset":0.05,"color":"#36a"},{"offset":0.061,"color":"#fff"},{"offset":0.064,"color":"#fff"},{"offset":0.075,"color":"#36a"},{"offset":0.086,"color":"#fff"},{"offset":0.089,"color":"#fff"},{"offset":0.1,"color":"#36a"},{"offset":0.111,"color":"#fff"},{"offset":0.114,"color":"#fff"},{"offset":0.125,"color":"#36a"},{"offset":0.136,"color":"#fff"},{"offset":0.139,"color":"#fff"},{"offset":0.15,"color":"#36a"},{"offset":0.161,"color":"#fff"},{"offset":0.164,"color":"#fff"},{"offset":0.175,"color":"#36a"},{"offset":0.186,"color":"#fff"},{"offset":0.189,"color":"#fff"},{"offset":0.2,"color":"#36a"},{"offset":0.211,"color":"#fff"},{"offset":0.214,"color":"#fff"},{"offset":0.225,"color":"#36a"},{"offset":0.236,"color":"#fff"},{"offset":0.239,"color":"#fff"},{"offset":0.25,"color":"#36a"},{"offset":0.261,"color":"#fff"},{"offset":0.264,"color":"#fff"},{"offset":0.275,"color":"#36a"},{"offset":0.286,"color":"#fff"},{"offset":0.289,"color":"#fff"},{"offset":0.3,"color":"#36a"},{"offset":0.311,"color":"#fff"},{"offset":0.314,"color":"#fff"},{"offset":0.325,"color":"#36a"},{"offset":0.336,"color":"#fff"},{"offset":0.339,"color":"#fff"},{"offset":0.35,"color":"#36a"},{"offset":0.361,"color":"#fff"},{"offset":0.364,"color":"#fff"},{"offset":0.375,"color":"#36a"},{"offset":0.386,"color":"#fff"},{"offset":0.389,"color":"#fff"},{"offset":0.4,"color":"#36a"},{"offset":0.411,"color":"#fff"},{"offset":0.414,"color":"#fff"},{"offset":0.425,"color":"#36a"},{"offset":0.436,"color":"#fff"},{"offset":0.439,"color":"#fff"},{"offset":0.45,"color":"#36a"},{"offset":0.461,"color":"#fff"},{"offset":0.464,"color":"#fff"},{"offset":0.475,"color":"#36a"},{"offset":0.486,"color":"#fff"},{"offset":0.489,"color":"#fff"},{"offset":0.5,"color":"#36a"},{"offset":0.511,"color":"#fff"},{"offset":0.514,"color":"#fff"},{"offset":0.525,"color":"#36a"},{"offset":0.536,"color":"#fff"},{"offset":0.539,"color":"#fff"},{"offset":0.55,"color":"#36a"},{"offset":0.561,"color":"#fff"},{"offset":0.564,"color":"#fff"},{"offset":0.575,"color":"#36a"},{"offset":0.586,"color":"#fff"},{"offset":0.589,"color":"#fff"},{"offset":0.6,"color":"#36a"},{"offset":0.611,"color":"#fff"},{"offset":0.614,"color":"#fff"},{"offset":0.625,"color":"#36a"},{"offset":0.636,"color":"#fff"},{"offset":0.639,"color":"#fff"},{"offset":0.65,"color":"#36a"},{"offset":0.661,"color":"#fff"},{"offset":0.664,"color":"#fff"},{"offset":0.675,"color":"#36a"},{"offset":0.686,"color":"#fff"},{"offset":0.689,"color":"#fff"},{"offset":0.7,"color":"#36a"},{"offset":0.711,"color":"#fff"},{"offset":0.714,"color":"#fff"},{"offset":0.725,"color":"#36a"},{"offset":0.736,"color":"#fff"},{"offset":0.739,"color":"#fff"},{"offset":0.75,"color":"#36a"},{"offset":0.761,"color":"#fff"},{"offset":0.764,"color":"#fff"},{"offset":0.775,"color":"#36a"},{"offset":0.786,"color":"#fff"},{"offset":0.789,"color":"#fff"},{"offset":0.8,"color":"#36a"},{"offset":0.811,"color":"#fff"},{"offset":0.814,"color":"#fff"},{"offset":0.825,"color":"#36a"},{"offset":0.836,"color":"#fff"},{"offset":0.839,"color":"#fff"},{"offset":0.85,"color":"#36a"},{"offset":0.861,"color":"#fff"},{"offset":0.864,"color":"#fff"},{"offset":0.875,"color":"#36a"},{"offset":0.886,"color":"#fff"},{"offset":0.889,"color":"#fff"},{"offset":0.9,"color":"#36a"},{"offset":0.911,"color":"#fff"},{"offset":0.914,"color":"#fff"},{"offset":0.925,"color":"#36a"},{"offset":0.936,"color":"#fff"},{"offset":0.939,"color":"#fff"},{"offset":0.95,"color":"#36a"},{"offset":0.961,"color":"#fff"},{"offset":0.964,"color":"#fff"},{"offset":0.975,"color":"#36a"},{"offset":0.986,"color":"#fff"},{"offset":0.989,"color":"#fff"},{"offset":1,"color":"#36a"}]}},"encoding":{"order":{"field":"i"}}},
{"data":{"name":"faces"},"transform":[{"filter":"datum.f==='b'"}],"mark":{"type":"line","stroke":"#333333","strokeWidth":1.2,"fill":"#4a7ebb"},"encoding":{"order":{"field":"i"}}},
{"data":{"name":"boxes"},"mark":{"type":"rect","fill":"#ffffff","strokeWidth":6,"clip":true,"cornerRadius":1},"encoding":{"x2":{"field":"x2"},"y2":{"field":"y2"},"stroke":{"field":"g","type":"nominal","legend":null,"scale":{"domain":["primi","altri","filiali","minori","piccole"],"range":["#ffc000","#0070c0","#a6a6a6","#ff0000","#00b050"]}}}},
{"data":{"name":"leaders"},"mark":{"type":"rule","stroke":"#7f7f7f","strokeWidth":6.5,"strokeDash":[20,6]},"encoding":{"x2":{"field":"x2"},"y2":{"field":"y2"}}},
{"data":{"name":"bold"},"mark":{"type":"text","font":"DejaVu Sans","fontWeight":"bold","fontSize":30.5,"align":"center","baseline":"alphabetic","color":"#000000"},"encoding":{"text":{"field":"t"}}},
{"data":{"name":"plain"},"mark":{"type":"text","font":"DejaVu Sans","fontSize":29.5,"align":"center","baseline":"alphabetic","color":"#000000"},"encoding":{"text":{"field":"t"}}},
{"data":{"name":"title"},"mark":{"type":"text","font":"Liberation Sans","fontWeight":"bold","fontSize":62.5,"align":"center","baseline":"alphabetic","color":"#002060"},"encoding":{"text":{"field":"t"}}}
]}
